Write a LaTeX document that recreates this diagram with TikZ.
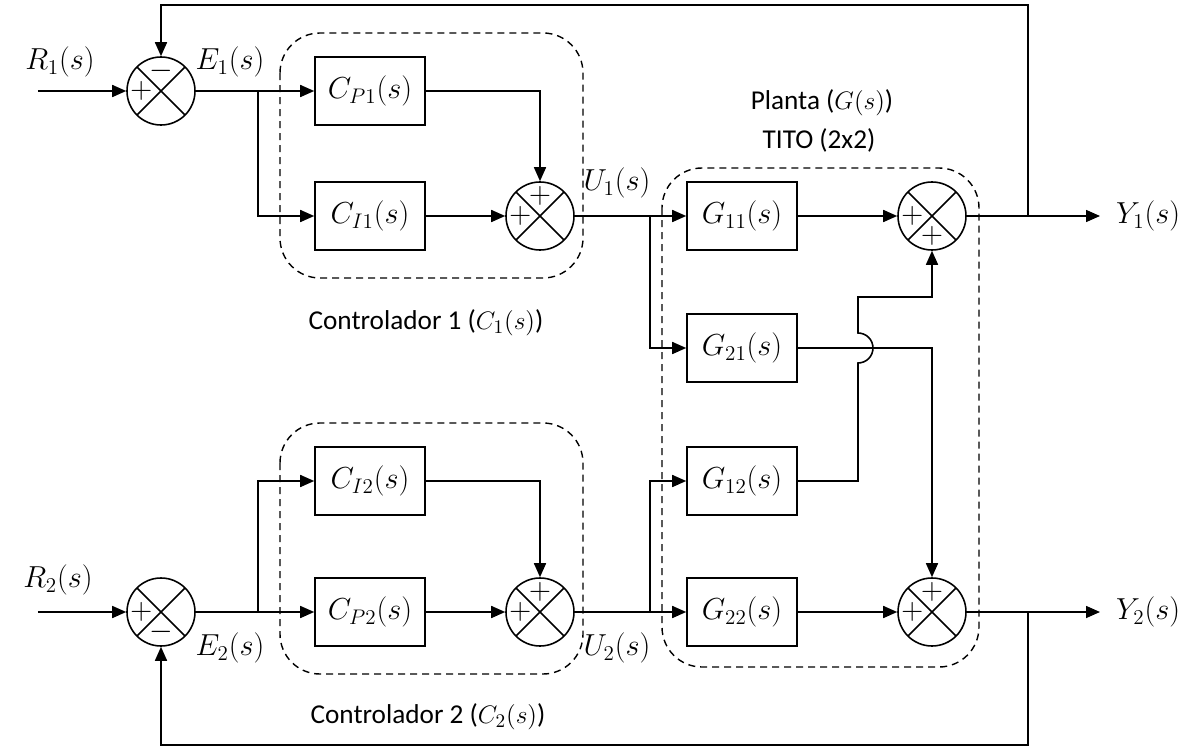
\documentclass[tikz,border=0pt]{standalone}
\usepackage{amsmath}
\usepackage{fontspec}
\setmainfont{Carlito}
\usetikzlibrary{arrows.meta,positioning}

\begin{document}
\begin{tikzpicture}[
    >={Triangle[length=0.28cm,width=0.24cm]},
    font=\fontsize{16.5}{19}\selectfont,
    block/.style={
        rectangle, draw, line width=0.9pt,
        minimum width=2.2cm, minimum height=1.36cm, inner sep=0pt
    },
    sumj/.style={
        circle, draw, line width=0.9pt, minimum size=1.36cm, inner sep=0pt,
        path picture={\draw[line width=0.9pt]
            (path picture bounding box.north west) -- (path picture bounding box.south east)
            (path picture bounding box.north east) -- (path picture bounding box.south west);}
    },
    sgn/.style={inner sep=0pt, font=\fontsize{17}{18}\selectfont},
    caption/.style={font=\fontsize{15.5}{18}\selectfont},
    conn/.style={->, line width=0.9pt},
    group/.style={draw, dash pattern=on 0.14cm off 0.1cm, line width=0.8pt, rounded corners=0.8cm}
]
    \useasboundingbox (0,0) rectangle (23.86,-14.98);

    % Groups
    \draw[group] (5.6,-0.66) rectangle (11.66,-5.56);
    \draw[group] (5.6,-8.46) rectangle (11.66,-13.48);
    \draw[group] (13.24,-3.36) rectangle (19.58,-13.34);
    \node[caption] (ctl1) at (8.52,-6.46) {Controlador 1 ($C_1(s)$)};
    \node[caption] (ctl2) at (8.56,-14.34) {Controlador 2 ($C_2(s)$)};
    \node[caption] (plant) at (16.44,-2.06) {Planta ($G(s)$)};
    \node[caption] (tito) at (16.38,-2.8) {TITO (2x2)};

    % Summing junctions
    \node[sumj] (s1) at (3.22,-1.82) {};
    \node[sgn] at ([xshift=0.3cm]s1.west) {$+$};
    \node[sgn] at ([yshift=-0.3cm]s1.north) {$-$};

    \node[sumj] (s2) at (10.8,-4.32) {};
    \node[sgn] at ([xshift=0.3cm]s2.west) {$+$};
    \node[sgn] at ([yshift=-0.3cm]s2.north) {$+$};

    \node[sumj] (s3) at (18.64,-4.32) {};
    \node[sgn] at ([xshift=0.3cm]s3.west) {$+$};
    \node[sgn] at ([yshift=0.3cm]s3.south) {$+$};

    \node[sumj] (s4) at (18.64,-12.24) {};
    \node[sgn] at ([xshift=0.3cm]s4.west) {$+$};
    \node[sgn] at ([yshift=-0.3cm]s4.north) {$+$};

    \node[sumj] (s5) at (3.22,-12.24) {};
    \node[sgn] at ([xshift=0.3cm]s5.west) {$+$};
    \node[sgn] at ([yshift=0.3cm]s5.south) {$-$};

    \node[sumj] (s6) at (10.8,-12.24) {};
    \node[sgn] at ([xshift=0.3cm]s6.west) {$+$};
    \node[sgn] at ([yshift=-0.3cm]s6.north) {$+$};

    % Blocks
    \node[block] (cp1) at (7.4,-1.82) {$C_{P1}(s)$};
    \node[block] (ci1) at (7.4,-4.32) {$C_{I1}(s)$};
    \node[block] (ci2) at (7.4,-9.62) {$C_{I2}(s)$};
    \node[block] (cp2) at (7.4,-12.24) {$C_{P2}(s)$};
    \node[block] (g11) at (14.84,-4.32) {$G_{11}(s)$};
    \node[block] (g21) at (14.84,-6.96) {$G_{21}(s)$};
    \node[block] (g12) at (14.84,-9.62) {$G_{12}(s)$};
    \node[block] (g22) at (14.84,-12.24) {$G_{22}(s)$};

    % Coordinates
    \coordinate (in1) at (0.76,-1.82);
    \coordinate (in2) at (0.76,-12.24);
    \coordinate (e1br) at (5.16,-1.82);
    \coordinate (e2br) at (5.16,-12.24);
    \coordinate (u1br) at (13.0,-4.32);
    \coordinate (u2br) at (13.0,-12.24);
    \coordinate (hop) at (17.16,-6.96);
    \coordinate (g12up) at (17.16,-5.94);
    \coordinate (out1) at (22.0,-4.32);
    \coordinate (out2) at (22.0,-12.24);
    \coordinate (fb1) at (20.56,-4.32);
    \coordinate (fb2) at (20.56,-12.24);
    \coordinate (fbtop) at (20.56,-0.1);
    \coordinate (fbbot) at (20.56,-14.9);

    % Signal labels
    \node (r1) at (1.2,-1.24) {$R_1(s)$};
    \node (e1) at (4.6,-1.24) {$E_1(s)$};
    \node (u1) at (12.34,-3.66) {$U_1(s)$};
    \node (r2) at (1.16,-11.6) {$R_2(s)$};
    \node (e2) at (4.6,-12.96) {$E_2(s)$};
    \node (u2) at (12.34,-12.96) {$U_2(s)$};
    \node[right] (y1) at (22.2,-4.32) {$Y_1(s)$};
    \node[right] (y2) at (22.2,-12.24) {$Y_2(s)$};

    % Connections, loop 1
    \draw[conn] (in1) -- (s1);
    \draw[conn] (s1) -- (cp1);
    \draw[conn] (e1br) |- (ci1);
    \draw[conn] (cp1) -| (s2);
    \draw[conn] (ci1) -- (s2);
    \draw[conn] (s2) -- (g11);
    \draw[conn] (u1br) |- (g21);
    \draw[conn] (g11) -- (s3);
    \draw[conn] (s3) -- (out1);
    \draw[conn] (fb1) -- (fbtop) -| (s1);

    % Connections, loop 2
    \draw[conn] (in2) -- (s5);
    \draw[conn] (s5) -- (cp2);
    \draw[conn] (e2br) |- (ci2);
    \draw[conn] (ci2) -| (s6);
    \draw[conn] (cp2) -- (s6);
    \draw[conn] (s6) -- (g22);
    \draw[conn] (u2br) |- (g12);
    \draw[conn] (g22) -- (s4);
    \draw[conn] (s4) -- (out2);
    \draw[conn] (fb2) -- (fbbot) -| (s5);

    % Cross couplings
    \draw[conn] (g21) -| (s4);
    \draw[conn] (g12) -| ([yshift=-0.3cm]hop) arc[start angle=-90, end angle=90, radius=0.3cm] -- (g12up) -| (s3);

\end{tikzpicture}
\end{document}
